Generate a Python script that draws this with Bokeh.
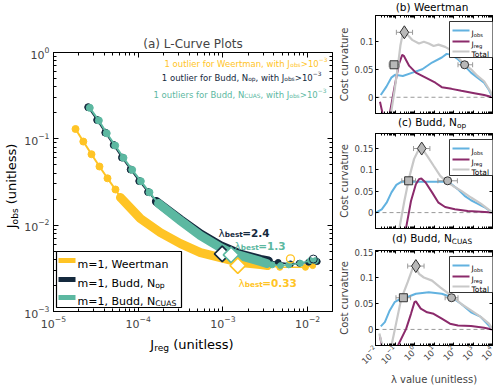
import math
from bokeh.plotting import figure
from bokeh.layouts import row, column
from bokeh.models import (Range1d, FixedTicker, LogAxis, LinearAxis, Label, BoxAnnotation,
                          CustomJSTickFormatter, Span, Div)
from bokeh.embed import file_html
from bokeh.resources import INLINE

FONT = "DejaVu Sans"
Y_COL = "#FFC425"
N_COL = "#14293D"
T_COL = "#5CB8A1"
OBS_COL = "#62B2E0"
REG_COL = "#8B2A6B"
TOT_COL = "#C8C8C8"

# ---------------- L-curve data (J_reg, J_obs) ----------------
weert_sparse_jreg = [1.82e-5, 2.25e-5, 2.81e-5, 3.49e-5, 4.34e-5, 5.39e-5, 6.18e-5]
weert_sparse_jobs = [0.130, 0.093, 0.0663, 0.0478, 0.0349, 0.0259, 0.0209]
weert_dense_jreg = [6.18e-5, 1.064e-4, 1.83e-4, 3.16e-4, 5.44e-4, 9.37e-4, 1.61e-3, 2.78e-3, 3.36e-3]
weert_dense_jobs = [0.0209, 0.0119, 0.0082, 0.00612, 0.00482, 0.00422, 0.00369, 0.00349, 0.0034]
weert_tail_jreg = [3.36e-3, 4.70e-3, 9.44e-3, 1.15e-2]
weert_tail_jobs = [0.0034, 0.00325, 0.00325, 0.0034]

nop_sparse_jreg = [2.57e-5, 3.28e-5, 4.09e-5, 5.14e-5, 6.44e-5, 8.15e-5, 1.03e-4, 1.31e-4, 1.64e-4]
nop_sparse_jobs = [0.2324, 0.165, 0.118, 0.0848, 0.0607, 0.0441, 0.0324, 0.0242, 0.0188]
nop_dense_jreg = [1.64e-4, 3.15e-4, 5.44e-4, 9.37e-4, 1.61e-3, 2.78e-3, 3.45e-3]
nop_dense_jobs = [0.0188, 0.0116, 0.0079, 0.0058, 0.00462, 0.00402, 0.00385]
nop_tail_jreg = [3.45e-3, 4.5e-3, 6.28e-3, 8.0e-3, 1.03e-2, 1.30e-2]
nop_tail_jobs = [0.00385, 0.0037, 0.00356, 0.00362, 0.00372, 0.00379]

cuas_sparse_jreg = [2.68e-5, 3.43e-5, 4.25e-5, 5.35e-5, 6.70e-5, 8.49e-5, 1.074e-4, 1.358e-4, 1.74e-4]
cuas_sparse_jobs = [0.2287, 0.163, 0.116, 0.0836, 0.0603, 0.0437, 0.0323, 0.0240, 0.0178]
cuas_dense_jreg = [1.74e-4, 3.15e-4, 5.44e-4, 9.37e-4, 1.25e-3, 1.61e-3, 2.78e-3, 3.3e-3]
cuas_dense_jobs = [0.0178, 0.0113, 0.00757, 0.0055, 0.0048, 0.00444, 0.0038, 0.0036]
cuas_tail_jreg = [3.3e-3, 3.82e-3, 4.79e-3, 6.0e-3, 8.24e-3, 1.08e-2, 1.24e-2]
cuas_tail_jobs = [0.0036, 0.00347, 0.0034, 0.00347, 0.00362, 0.00389, 0.00389]

outlier_weert = (6.28e-3, 0.00407)
outlier_cuas = (1.17e-2, 0.00405)

best_nop = (9.82e-4, 0.00465)
best_cuas = (1.25e-3, 0.00453)
best_weert = (1.50e-3, 0.0034)

# ---------------- cost curvature data (log10 lambda, value) ----------------
b_obs_loglam = [-1.73, -1.44, -1.19, -1.0, -0.6, -0.1, 0.4, 0.9, 1.4, 1.65, 1.9, 2.23, 2.57, 2.9, 3.23, 3.57, 3.82, 4.0]
b_obs_val = [0.004, 0.019, 0.035, 0.040, 0.038, 0.044, 0.050, 0.062, 0.071, 0.0775, 0.0757, 0.068, 0.056, 0.044, 0.035, 0.026, 0.013, 0.0]
b_reg_loglam = [-1.77, -1.6, -1.45, -1.3, -1.02, -0.8, -0.63, -0.55, -0.27, 0.07, 0.57, 1.07, 1.4, 1.9, 2.4, 3.07, 3.57, 4.0]
b_reg_val = [-0.008, -0.035, -0.06, -0.035, 0.019, 0.059, 0.0757, 0.074, 0.056, 0.044, 0.035, 0.026, 0.018, 0.015, 0.0115, 0.0073, 0.004, 0.0]
b_tot_loglam = [-1.3, -1.18, -1.02, -0.85, -0.72, -0.6, -0.52, -0.35, -0.1, 0.23, 0.48, 0.73, 0.98, 1.23, 1.57, 1.9, 2.23, 2.57, 2.9, 3.23, 3.57, 3.9, 4.0]
b_tot_val = [-0.06, -0.023, 0.013, 0.056, 0.093, 0.114, 0.117, 0.111, 0.102, 0.096, 0.099, 0.096, 0.0916, 0.094, 0.090, 0.0835, 0.071, 0.059, 0.050, 0.038, 0.0286, 0.010, 0.0]

c_obs_loglam = [-1.98, -1.68, -1.43, -1.18, -0.93, -0.68, 0.0, 1.0, 1.57, 1.9, 2.23, 2.57, 2.9, 3.23, 3.57, 4.0]
c_obs_val = [0.0, 0.0077, 0.023, 0.047, 0.0645, 0.0715, 0.072, 0.0715, 0.0715, 0.066, 0.054, 0.039, 0.0287, 0.021, 0.013, 0.0]
c_reg_loglam = [-0.5, -0.43, -0.18, 0.07, 0.23, 0.35, 0.57, 0.9, 1.23, 1.57, 2.07, 2.73, 3.4, 4.0]
c_reg_val = [-0.06, -0.035, 0.027, 0.066, 0.0778, 0.0794, 0.070, 0.047, 0.023, 0.013, 0.0077, 0.0037, 0.002, 0.0]
c_tot_loglam = [-0.85, -0.77, -0.52, -0.27, -0.02, 0.23, 0.37, 0.65, 0.98, 1.32, 1.65, 1.98, 2.4, 2.9, 3.4, 4.0]
c_tot_val = [-0.06, -0.035, 0.027, 0.082, 0.125, 0.148, 0.150, 0.132, 0.109, 0.0855, 0.0715, 0.062, 0.0505, 0.035, 0.021, 0.0]

d_obs_loglam = [-1.73, -1.52, -1.27, -1.02, -0.77, -0.52, 0.07, 0.73, 1.4, 1.9, 2.4, 2.9, 3.4, 4.0]
d_obs_val = [0.0058, 0.014, 0.0365, 0.0525, 0.0577, 0.060, 0.0686, 0.0717, 0.0686, 0.062, 0.049, 0.033, 0.024, 0.0]
d_reg_loglam = [-1.78, -1.6, -1.3, -0.85, -0.43, -0.18, 0.0, 0.07, 0.32, 0.65, 0.98, 1.4, 1.82, 2.23, 2.9, 3.57, 4.0]
d_reg_val = [-0.012, -0.045, -0.08, -0.031, 0.001, 0.030, 0.0525, 0.054, 0.040, 0.033, 0.030, 0.0206, 0.011, 0.0077, 0.0064, 0.0033, 0.0]
d_tot_loglam = [-1.8, -1.6, -1.4, -1.18, -0.93, -0.68, -0.35, -0.1, 0.03, 0.23, 0.48, 0.9, 1.32, 1.65, 1.98, 2.4, 2.9, 3.4, 3.82, 4.0]
d_tot_val = [-0.008, -0.04, -0.07, -0.031, 0.014, 0.059, 0.091, 0.117, 0.122, 0.107, 0.1, 0.094, 0.081, 0.0717, 0.062, 0.049, 0.0365, 0.024, 0.011, 0.0]

# markers: (log10 lambda, value, err_lo, err_hi)
b_marks = {"diamond": (-0.52, 0.116, -0.93, -0.1), "square": (-1.05, 0.058, -1.3, -0.77), "circle": (2.57, 0.058, 2.23, 2.98)}
c_marks = {"diamond": (0.37, 0.149, -0.05, 0.79), "square": (-0.3, 0.074, -0.65, 0.05), "circle": (1.7, 0.074, 1.2, 2.2)}
d_marks = {"diamond": (0.07, 0.122, -0.35, 0.49), "square": (-0.57, 0.061, -0.95, -0.2), "circle": (1.9, 0.061, 1.57, 2.23)}

# ---------------- helpers ----------------
CW = {' ': 0.318, 'a': 0.613, 'b': 0.635, 'c': 0.550, 'd': 0.635, 'e': 0.615, 'f': 0.352, 'g': 0.635,
      'h': 0.634, 'i': 0.278, 'j': 0.278, 'k': 0.579, 'l': 0.278, 'm': 0.974, 'n': 0.634, 'o': 0.612,
      'p': 0.635, 'q': 0.635, 'r': 0.411, 's': 0.521, 't': 0.392, 'u': 0.634, 'v': 0.592, 'w': 0.818,
      'x': 0.592, 'y': 0.592, 'z': 0.525, 'A': 0.684, 'B': 0.686, 'C': 0.698, 'D': 0.770, 'E': 0.632,
      'J': 0.295, 'L': 0.557, 'N': 0.748, 'O': 0.787, 'P': 0.603, 'S': 0.635, 'T': 0.611, 'U': 0.732,
      'W': 0.989, '(': 0.390, ')': 0.390, ',': 0.318, '.': 0.318, '=': 0.838, '>': 0.838, '-': 0.361,
      '\u2212': 0.838, '\u03bb': 0.592}
for ch in "0123456789":
    CW[ch] = 0.636


def rich(fig, x, y, segs, size, color, align="left", angle=0.0):
    items = []
    for s in segs:
        t, k = s[0], s[1]
        b = s[2] if len(s) > 2 else False
        fs = size * 0.7 if k in ("sub", "sup") else size
        w = sum(CW.get(ch, 0.6) for ch in t) * fs * (1.1 if b else 1.0)
        items.append((t, k, b, fs, w))
    total = sum(it[4] for it in items)
    pos = {"left": 0.0, "center": -total / 2.0, "right": -total}[align]
    ca, sa = math.cos(angle), math.sin(angle)
    for t, k, b, fs, w in items:
        dy = {"n": 0.0, "sub": -0.22 * size, "sup": 0.45 * size}[k]
        fig.add_layout(Label(x=x + pos * ca - dy * sa, y=y + pos * sa + dy * ca,
                             x_units="screen", y_units="screen", text=t, angle=angle,
                             text_font=FONT, text_font_size=f"{fs:.1f}px",
                             text_font_style="bold" if b else "normal",
                             text_color=color, text_align="left", text_baseline="alphabetic"))
        pos += w


def sbox(fig, l, r, b, t, fill, line=None, lw=1.0):
    fig.add_layout(BoxAnnotation(left=l, right=r, bottom=b, top=t,
                                 left_units="screen", right_units="screen",
                                 bottom_units="screen", top_units="screen",
                                 fill_color=fill, fill_alpha=1.0,
                                 line_color=line, line_width=lw, line_alpha=1.0))


def style_axis(ax, size, tick_in=5, minor_in=3):
    ax.major_tick_in = tick_in
    ax.major_tick_out = 0
    ax.minor_tick_in = minor_in
    ax.minor_tick_out = 0
    ax.major_label_text_font = FONT
    ax.major_label_text_font_size = size
    ax.axis_line_color = "black"
    ax.major_tick_line_color = "black"
    ax.minor_tick_line_color = "black"


def empty_fmt():
    return CustomJSTickFormatter(code="return ''")


SUB = '<sub style="font-size:70%;vertical-align:-0.3em;line-height:0">'


def text_div(width, height, html, cx, cy, size, angle=0):
    rot = f" rotate({angle}deg)" if angle else ""
    inner = (f'<div style="position:relative;width:{width}px;height:{height}px;overflow:visible;">'
             f'<span style="position:absolute;left:{cx}px;top:{cy}px;transform:translate(-50%,-50%){rot};'
             f'white-space:nowrap;font-family:\'DejaVu Sans\';font-weight:normal;font-size:{size}px;'
             f'color:black;line-height:1;">{html}</span></div>')
    return Div(text=inner, width=width, height=height, margin=(0, 0, 0, 0))


# ---------------- main L-curve figure ----------------
YL_W = 20
PW, PH = 315, 334
FL, FT, FB = 53, 52, 311   # frame left / top / bottom in page px

p = figure(width=PW, height=PH, x_axis_type="log", y_axis_type="log",
           x_range=Range1d(1e-5, 1.97e-2), y_range=Range1d(1e-3, 1.0),
           output_backend="svg", toolbar_location=None,
           min_border_left=FL - YL_W, min_border_right=3, min_border_top=FT,
           min_border_bottom=PH - FB)
p.outline_line_color = "black"
p.xgrid.visible = False
p.ygrid.visible = False
p.title.text = "(a) L-Curve Plots"
p.title.text_font = FONT
p.title.text_font_size = "12px"
p.title.text_font_style = "normal"
p.title.align = "center"
p.title.standoff = 3

xt = FixedTicker(ticks=[1e-5, 1e-4, 1e-3, 1e-2],
                 minor_ticks=[m * 10.0 ** e for e in range(-5, -1) for m in range(2, 10)])
yt = FixedTicker(ticks=[1e-3, 1e-2, 1e-1, 1e0],
                 minor_ticks=[m * 10.0 ** e for e in range(-3, 0) for m in range(2, 10)])
bx = p.below[0]
ly = p.left[0]
bx.ticker = xt
ly.ticker = yt
for ax in (bx, ly):
    style_axis(ax, "11px")
    ax.major_label_standoff = 4
tx = LogAxis(ticker=xt, formatter=empty_fmt(), major_label_standoff=0)
ry = LogAxis(ticker=yt, formatter=empty_fmt(), major_label_standoff=0)
style_axis(tx, "1px")
style_axis(ry, "1px")
p.add_layout(tx, "above")
p.add_layout(ry, "right")

# Weertman
p.line(weert_sparse_jreg, weert_sparse_jobs, color=Y_COL, line_width=2)
p.scatter(weert_sparse_jreg, weert_sparse_jobs, size=7, color=Y_COL)
p.line(weert_dense_jreg, weert_dense_jobs, color=Y_COL, line_width=9, line_cap="round", line_join="round")
p.line(weert_tail_jreg, weert_tail_jobs, color=Y_COL, line_width=1.5)
p.scatter(weert_tail_jreg, weert_tail_jobs, size=6, color=Y_COL)
# Budd N_op
p.line(nop_sparse_jreg, nop_sparse_jobs, color=N_COL, line_width=1.5)
p.scatter(nop_sparse_jreg, nop_sparse_jobs, size=7, color=N_COL)
p.line(nop_dense_jreg, nop_dense_jobs, color=N_COL, line_width=9, line_cap="round", line_join="round")
p.line(nop_tail_jreg, nop_tail_jobs, color=N_COL, line_width=1.5)
p.scatter(nop_tail_jreg, nop_tail_jobs, size=6, color=N_COL)
# Budd N_CUAS
p.line(cuas_sparse_jreg, cuas_sparse_jobs, color=T_COL, line_width=2)
p.scatter(cuas_sparse_jreg, cuas_sparse_jobs, size=7, color=T_COL)
p.line(cuas_dense_jreg, cuas_dense_jobs, color=T_COL, line_width=9, line_cap="round", line_join="round")
p.line(cuas_tail_jreg, cuas_tail_jobs, color=T_COL, line_width=1.5)
p.scatter(cuas_tail_jreg, cuas_tail_jobs, size=6, color=T_COL)

# outliers (open circles)
p.scatter([outlier_weert[0]], [outlier_weert[1]], size=8, fill_color=None, line_color=Y_COL, line_width=1.3)
p.scatter([outlier_cuas[0]], [outlier_cuas[1]], size=8, fill_color=None, line_color=N_COL, line_width=1.0)

# lambda_best diamonds
for (bxv, byv), col in ((best_nop, N_COL), (best_cuas, T_COL), (best_weert, Y_COL)):
    p.scatter([bxv], [byv], marker="square", angle=math.pi / 4, size=11,
              fill_color="white", line_color=col, line_width=1.6)


def M(px, py):
    return px - FL, FB - py


# outlier notes
x0, y0 = M(327, 63)
rich(p, x0, y0, [("1 outlier for Weertman, with J", "n"), ("obs", "sub"), (">10", "n"), ("\u22123", "sup")],
     8.5, Y_COL, align="right")
x0, y0 = M(321, 77)
rich(p, x0, y0, [("1 outlier for Budd, N", "n"), ("op", "sub"), (", with J", "n"), ("obs", "sub"),
                 (">10", "n"), ("\u22123", "sup")], 8.5, N_COL, align="right")
x0, y0 = M(326, 94)
rich(p, x0, y0, [("1 outliers for Budd, N", "n"), ("CUAS", "sub"), (", with J", "n"), ("obs", "sub"),
                 (">10", "n"), ("\u22123", "sup")], 8.5, T_COL, align="right")

# lambda_best annotations
for (px, py), txt, col in (((218, 232), "=2.4", N_COL), ((234, 245), "=1.3", T_COL),
                           ((238, 282), "=0.33", Y_COL)):
    x0, y0 = M(px, py)
    rich(p, x0, y0, [("\u03bb", "n", False), ("best", "sub", True), (txt, "n", True)], 10.5, col)

# legend
l0, t0 = M(56, 251)
r0, b0 = M(181, 307)
sbox(p, l0, r0, b0, t0, "white", "black", 1.2)
for (py, col, segs) in ((260, Y_COL, [("m=1, Weertman", "n")]),
                        (279, N_COL, [("m=1, Budd, N", "n"), ("op", "sub")]),
                        (297, T_COL, [("m=1, Budd, N", "n"), ("CUAS", "sub")])):
    xa, ya = M(58, py + 2.5)
    xb, yb = M(75, py - 2.5)
    sbox(p, xa, xb, ya, yb, col, None, 0)
    x0, y0 = M(77, py + 4)
    rich(p, x0, y0, segs, 11, "black")

ylab = text_div(YL_W, PH, f"J{SUB}obs</sub> (unitless)", 11, 186, 13, angle=-90)
xlab = text_div(PW, 50, f"J{SUB}reg</sub> (unitless)", 192 - YL_W, 10, 13)
main_block = row(ylab, column(p, xlab))

# ---------------- cost curvature panels ----------------
SW = 160
SL, SR = 37, 3


def panel(ylo, yhi, yticks, obs, reg, tot, marks, height, top, bottom, last):
    q = figure(width=SW, height=height, x_axis_type="log", x_range=Range1d(1e-2, 1e4),
               y_range=Range1d(ylo, yhi), output_backend="svg", toolbar_location=None,
               min_border_left=SL, min_border_right=SR, min_border_top=top, min_border_bottom=bottom)
    fw = SW - SL - SR
    fh = height - top - bottom
    q.outline_line_color = "black"
    q.xgrid.visible = False
    q.ygrid.visible = False
    lxt = FixedTicker(ticks=[10.0 ** e for e in range(-2, 5)],
                      minor_ticks=[m * 10.0 ** e for e in range(-2, 4) for m in range(2, 10)])
    lyt = FixedTicker(ticks=yticks, minor_ticks=[])
    bax = q.below[0]
    lax = q.left[0]
    bax.ticker = lxt
    lax.ticker = lyt
    lax.formatter = CustomJSTickFormatter(code="return tick.toString()")
    style_axis(bax, "8px", 3, 2)
    style_axis(lax, "8.5px", 3, 2)
    lax.major_label_standoff = 2
    lax.axis_label = "Cost curvature"
    lax.axis_label_text_font = FONT
    lax.axis_label_text_font_size = "10px"
    lax.axis_label_text_font_style = "normal"
    lax.axis_label_standoff = 2
    if last:
        bax.major_label_text_font_size = "8.5px"
        bax.major_label_orientation = math.pi / 4
        bax.major_label_standoff = 2
        bax.axis_label = "\u03bb value (unitless)"
        bax.axis_label_text_font = FONT
        bax.axis_label_text_font_size = "10px"
        bax.axis_label_text_font_style = "normal"
        bax.axis_label_standoff = 3
    else:
        bax.formatter = empty_fmt()
        bax.major_label_standoff = 0
    tax = LogAxis(ticker=lxt, formatter=empty_fmt(), major_label_standoff=0)
    rax = LinearAxis(ticker=lyt, formatter=empty_fmt(), major_label_standoff=0)
    style_axis(tax, "1px", 3, 2)
    style_axis(rax, "1px", 3, 2)
    q.add_layout(tax, "above")
    q.add_layout(rax, "right")

    q.add_layout(Span(location=0, dimension="width", line_color="#999999", line_dash="4 3",
                      line_width=1, level="underlay"))
    for (lx, vy), col in ((obs, OBS_COL), (reg, REG_COL), (tot, TOT_COL)):
        q.line([10.0 ** v for v in lx], vy, color=col, line_width=2.2 if col == TOT_COL else 2)

    for kind, (mx, my, elo, ehi) in marks.items():
        q.segment(x0=[10.0 ** elo], y0=[my], x1=[10.0 ** ehi], y1=[my], line_color="#9A9A9A", line_width=1)
        q.scatter([10.0 ** elo, 10.0 ** ehi], [my, my], marker="dash", angle=math.pi / 2, size=5,
                  line_color="#9A9A9A", line_width=1)
    for kind, (mx, my, elo, ehi) in marks.items():
        sz = {"diamond": 13, "square": 8, "circle": 8}[kind]
        q.scatter([10.0 ** mx], [my], marker=kind, size=sz, fill_color="#B8B8B8",
                  line_color="#333333", line_width=1)

    # legend
    bl, br, bt, bb = fw - 46, fw - 1, fh - 6, fh - 42
    sbox(q, bl, br, bb, bt, "white", "black", 0.8)
    for dy, col, segs in ((9, OBS_COL, [("J", "n"), ("obs", "sub")]),
                          (20, REG_COL, [("J", "n"), ("reg", "sub")]),
                          (30, TOT_COL, [("Total", "n")])):
        cy = bt - dy
        sbox(q, bl + 3, bl + 20, cy - 1.1, cy + 1.1, col, None, 0)
        rich(q, bl + 22, cy - 2.5, segs, 7.5, "black")
    return q


TCX = SL + (SW - SL - SR) / 2.0
tb = text_div(SW, 14, "(b) Weertman", TCX, 7, 10.5)
pb = panel(-0.029, 0.146, [0, 0.05, 0.1],
           (b_obs_loglam, b_obs_val), (b_reg_loglam, b_reg_val), (b_tot_loglam, b_tot_val),
           b_marks, 103, 1, 4, False)
tc = text_div(SW, 14, f"(c) Budd, N{SUB}op</sub>", TCX, 5, 10.5)
pc = panel(-0.037, 0.184, [0, 0.05, 0.1, 0.15],
           (c_obs_loglam, c_obs_val), (c_reg_loglam, c_reg_val), (c_tot_loglam, c_tot_val),
           c_marks, 101, 2, 4, False)
td = text_div(SW, 16, f"(d) Budd, N{SUB}CUAS</sub>", TCX, 6, 10.5)
pd_ = panel(-0.031, 0.152, [0, 0.05, 0.1, 0.15],
            (d_obs_loglam, d_obs_val), (d_reg_loglam, d_reg_val), (d_tot_loglam, d_tot_val),
            d_marks, 140, 2, 43, True)

layout = row(main_block, column(tb, pb, tc, pc, td, pd_))
open("out.html", "w").write(file_html(layout, INLINE))
